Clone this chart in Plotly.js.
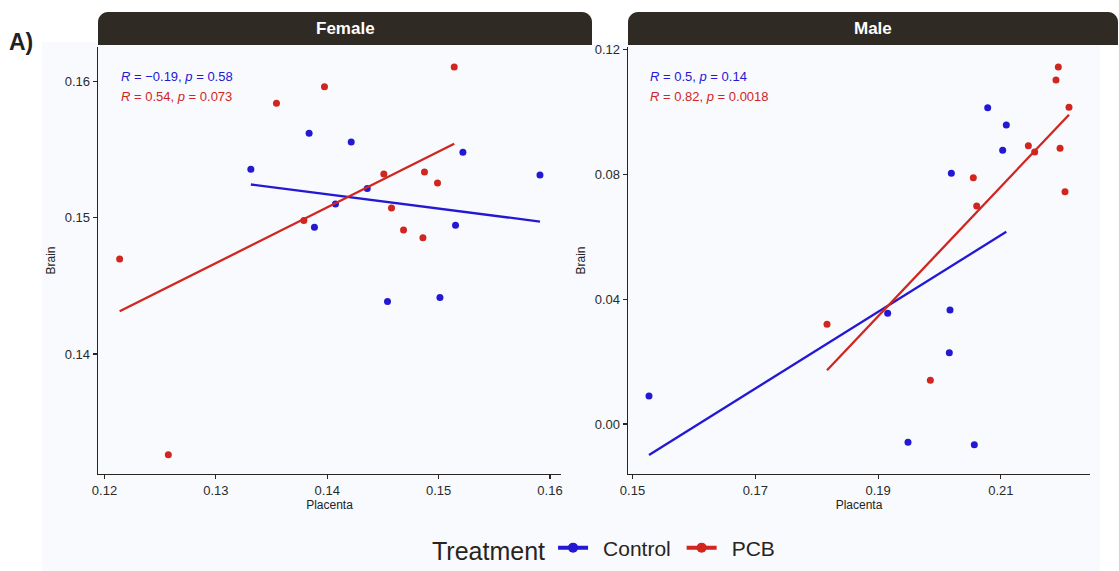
<!DOCTYPE html>
<html>
<head>
<meta charset="utf-8">
<script src="https://cdn.plot.ly/plotly-3.0.1.min.js"></script>
<style>html,body{margin:0;padding:0;background:#fff;}#chart{width:1119px;height:571px;}</style>
</head>
<body>
<div id="chart"></div>
<script>
// ---- Data ----
const femaleControlX = [0.13314, 0.13837, 0.14215, 0.15218, 0.15910, 0.14359, 0.14074, 0.13885, 0.15152, 0.14541, 0.15012];
const femaleControlY = [0.15356, 0.15620, 0.15556, 0.15481, 0.15314, 0.15214, 0.15101, 0.14930, 0.14945, 0.14385, 0.14414];
const femalePcbX = [0.15140, 0.13975, 0.13544, 0.14508, 0.14873, 0.14990, 0.14577, 0.13790, 0.14685, 0.14859, 0.12136, 0.12573];
const femalePcbY = [0.16106, 0.15962, 0.15840, 0.15321, 0.15336, 0.15255, 0.15072, 0.14979, 0.14910, 0.14854, 0.14698, 0.13260];
const maleControlX = [0.20785, 0.21088, 0.21029, 0.20193, 0.15269, 0.19156, 0.20171, 0.20160, 0.19487, 0.20567];
const maleControlY = [0.10139, 0.09583, 0.08772, 0.08034, 0.00897, 0.03547, 0.03654, 0.02286, -0.00588, -0.00662];
const malePcbX = [0.21935, 0.21897, 0.22109, 0.21447, 0.21550, 0.21963, 0.22044, 0.20551, 0.20606, 0.18168, 0.19851];
const malePcbY = [0.11442, 0.11026, 0.10150, 0.08920, 0.08718, 0.08836, 0.07446, 0.07894, 0.06987, 0.03194, 0.01400];
const panels = ["Female", "Male"];
const groups = ["Control", "PCB"];
const statsFemale = ["<i>R</i> = \u22120.19, <i>p</i> = 0.58", "<i>R</i> = 0.54, <i>p</i> = 0.073"];
const statsMale = ["<i>R</i> = 0.5, <i>p</i> = 0.14", "<i>R</i> = 0.82, <i>p</i> = 0.0018"];
const femaleXTicks = [0.12, 0.13, 0.14, 0.15, 0.16];
const femaleYTicks = [0.14, 0.15, 0.16];
const maleXTicks = [0.15, 0.17, 0.19, 0.21];
const maleYTicks = [0.00, 0.04, 0.08, 0.12];

// ---- Styling ----
const BLUE = "#2418d2";
const RED = "#d0261f";
const FONT = "Liberation Sans, Arial, Helvetica, sans-serif";
const AXC = "#2b2521";

function fit(x, y) {
  const n = x.length;
  const mx = x.reduce((a, b) => a + b, 0) / n;
  const my = y.reduce((a, b) => a + b, 0) / n;
  let sxy = 0, sxx = 0;
  for (let i = 0; i < n; i++) { sxy += (x[i] - mx) * (y[i] - my); sxx += (x[i] - mx) ** 2; }
  const b = sxy / sxx, a = my - b * mx;
  const x0 = Math.min(...x), x1 = Math.max(...x);
  return { x: [x0, x1], y: [a + b * x0, a + b * x1] };
}

const traces = [];
function addPanel(xs, ys, xa, ya, showLeg) {
  const cols = [BLUE, RED];
  for (let g = 0; g < 2; g++) {
    const f = fit(xs[g], ys[g]);
    traces.push({ x: f.x, y: f.y, xaxis: xa, yaxis: ya, mode: "lines", type: "scatter",
      line: { color: cols[g], width: 2.3 }, showlegend: false, hoverinfo: "skip" });
    traces.push({ x: xs[g], y: ys[g], xaxis: xa, yaxis: ya, mode: "markers", type: "scatter",
      marker: { color: cols[g], size: 7 }, name: groups[g], showlegend: false });
  }
  if (showLeg) {
    for (let g = 0; g < 2; g++) {
      const label = "\u00a0\u2009" + groups[g] + (g === 0 ? "\u00a0" : "");
      traces.push({ x: [null], y: [null], xaxis: xa, yaxis: ya, mode: "lines+markers", type: "scatter",
        marker: { color: cols[g], size: 10 }, line: { color: cols[g], width: 4 }, name: label, showlegend: true });
    }
  }
}
addPanel([femaleControlX, femalePcbX], [femaleControlY, femalePcbY], "x", "y", true);
addPanel([maleControlX, malePcbX], [maleControlY, malePcbY], "x2", "y2", false);

const L = 98, R = 1090, T = 47, B = 474;
const W = R - L, H = B - T;
const px = v => (v - L) / W;
const py = v => (B - v) / H;

const axisCommon = {
  showline: true, linecolor: AXC, linewidth: 1.3, ticks: "outside", ticklen: 4, tickcolor: AXC, tickwidth: 1.1,
  showgrid: false, zeroline: false, automargin: false, tickfont: { family: FONT, size: 13, color: "#2a2a2a" }
};

function stripPath(x0, x1, y0, y1, r) {
  const X0 = px(x0), X1 = px(x1), Y0 = py(y0), Y1 = py(y1);
  const rx = r / W, ry = r / H;
  const k = 0.45;
  return `M ${X0} ${Y1} L ${X0} ${Y0 - ry} C ${X0} ${Y0 - ry * k} ${X0 + rx * k} ${Y0} ${X0 + rx} ${Y0} ` +
    `L ${X1 - rx} ${Y0} C ${X1 - rx * k} ${Y0} ${X1} ${Y0 - ry * k} ${X1} ${Y0 - ry} L ${X1} ${Y1} Z`;
}

const layout = {
  width: 1119, height: 571,
  margin: { l: L, r: 1119 - R, t: T, b: 571 - B },
  paper_bgcolor: "#ffffff", plot_bgcolor: "rgba(0,0,0,0)",
  font: { family: FONT, color: "#222" },
  showlegend: true,
  xaxis: Object.assign({}, axisCommon, { domain: [0, px(561)], range: [0.119416, 0.160988], tickvals: femaleXTicks, ticktext: femaleXTicks.map(v => v.toFixed(2)),
    title: { text: "Placenta", font: { family: FONT, size: 12, color: "#222" }, standoff: 3 } }),
  yaxis: Object.assign({}, axisCommon, { domain: [0, 1], range: [0.131196, 0.162531], tickvals: femaleYTicks, ticktext: femaleYTicks.map(v => v.toFixed(2)),
    title: { text: "Brain", font: { family: FONT, size: 12, color: "#222" }, standoff: 6 } }),
  xaxis2: Object.assign({}, axisCommon, { domain: [px(628), 1], range: [0.14927, 0.22451], tickvals: maleXTicks, ticktext: maleXTicks.map(v => v.toFixed(2)), anchor: "y2",
    title: { text: "Placenta", font: { family: FONT, size: 12, color: "#222" }, standoff: 3 } }),
  yaxis2: Object.assign({}, axisCommon, { domain: [0, 1], range: [-0.016026, 0.12083], tickvals: maleYTicks, ticktext: maleYTicks.map(v => v.toFixed(2)), anchor: "x2",
    title: { text: "Brain", font: { family: FONT, size: 12, color: "#222" }, standoff: 6 } }),
  legend: {
    orientation: "h", xref: "container", yref: "container", x: 430 / 1119, xanchor: "left", y: (571 - 549) / 571, yanchor: "middle",
    title: { text: "Treatment", font: { family: FONT, size: 25, color: "#2a2420" }, side: "left" },
    font: { family: FONT, size: 21, color: "#2a2420" }, bgcolor: "rgba(0,0,0,0)", itemwidth: 30, tracegroupgap: 0
  },
  shapes: [
    { type: "rect", xref: "paper", yref: "paper", x0: px(42), x1: px(1100), y0: py(571), y1: py(42),
      fillcolor: "#f8fafe", line: { width: 0 }, layer: "below" },
    { type: "path", xref: "paper", yref: "paper", path: stripPath(98, 592, 12, 45, 10), fillcolor: "#2f2a23", line: { width: 0 } },
    { type: "path", xref: "paper", yref: "paper", path: stripPath(628, 1118, 12, 45, 10), fillcolor: "#2f2a23", line: { width: 0 } }
  ],
  annotations: [
    { xref: "paper", yref: "paper", x: px(345), y: py(28.5), text: "<b>" + panels[0] + "</b>", showarrow: false,
      font: { family: FONT, size: 17, color: "#ffffff" }, xanchor: "center", yanchor: "middle" },
    { xref: "paper", yref: "paper", x: px(873), y: py(28.5), text: "<b>" + panels[1] + "</b>", showarrow: false,
      font: { family: FONT, size: 17, color: "#ffffff" }, xanchor: "center", yanchor: "middle" },
    { xref: "paper", yref: "paper", x: px(119), y: py(77), text: statsFemale[0], showarrow: false, xanchor: "left", yanchor: "middle",
      font: { family: FONT, size: 13, color: BLUE } },
    { xref: "paper", yref: "paper", x: px(119), y: py(96), text: statsFemale[1], showarrow: false, xanchor: "left", yanchor: "middle",
      font: { family: FONT, size: 13, color: RED } },
    { xref: "paper", yref: "paper", x: px(648), y: py(77), text: statsMale[0], showarrow: false, xanchor: "left", yanchor: "middle",
      font: { family: FONT, size: 13, color: BLUE } },
    { xref: "paper", yref: "paper", x: px(648), y: py(96), text: statsMale[1], showarrow: false, xanchor: "left", yanchor: "middle",
      font: { family: FONT, size: 13, color: RED } },
    { xref: "paper", yref: "paper", x: px(7), y: py(42), text: "<b>A)</b>", showarrow: false, xanchor: "left", yanchor: "middle",
      font: { family: FONT, size: 23, color: "#222" } }
  ]
};

Plotly.newPlot("chart", traces, layout, { displayModeBar: false, staticPlot: true });
</script>
</body>
</html>
